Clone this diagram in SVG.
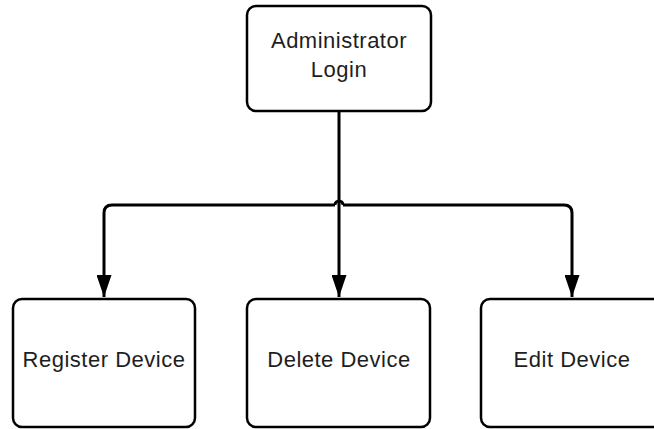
<svg xmlns="http://www.w3.org/2000/svg" width="654" height="429" viewBox="0 0 654 429">
<defs>
<style>
.box{fill:#ffffff;stroke:#000000;stroke-width:2.5}
.lbl{font-family:"Liberation Sans",Arial,sans-serif;font-size:22px;letter-spacing:0.5px;fill:#1e1e1e;text-anchor:middle}
.edge{fill:none;stroke:#000000;stroke-width:3}
</style>
<marker id="ah" viewBox="0 0 22 15" refX="22" refY="7.5" markerWidth="22" markerHeight="15" markerUnits="userSpaceOnUse" orient="auto">
<path d="M0,0 L22,7.5 L0,15 Z" fill="#000000"/>
</marker>
</defs>
<rect width="654" height="429" fill="#ffffff"/>
<g id="connectors">
<path class="edge" d="M339,111 L339,297" marker-end="url(#ah)"/>
<path class="edge" d="M335,205 L112,205 Q104,205 104,213 L104,297" marker-end="url(#ah)"/>
<path class="edge" d="M343,205 L564,205 Q572,205 572,213 L572,297" marker-end="url(#ah)"/>
<path class="edge" d="M335,205 A4,4 0 0 1 343,205"/>
</g>
<g id="admin">
<rect class="box" x="247" y="6" width="184" height="105" rx="9"/>
<text class="lbl" x="339" y="48">Administrator</text>
<text class="lbl" x="339" y="77">Login</text>
</g>
<g id="register">
<rect class="box" x="13" y="299" width="182" height="128" rx="9"/>
<text class="lbl" x="104" y="367">Register Device</text>
</g>
<g id="delete">
<rect class="box" x="247" y="299" width="183" height="128" rx="9"/>
<text class="lbl" x="339" y="367">Delete Device</text>
</g>
<g id="edit">
<rect class="box" x="481" y="299" width="183" height="128" rx="9"/>
<text class="lbl" x="572" y="367">Edit Device</text>
</g>
</svg>
